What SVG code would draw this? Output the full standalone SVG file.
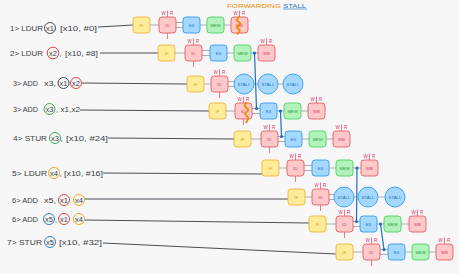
<svg xmlns="http://www.w3.org/2000/svg" width="459" height="274" viewBox="0 0 459 274">
  <style>
    text { font-family: "Liberation Sans", "DejaVu Sans", sans-serif; }
    .lbl { font-size: 7.5px; fill: #3b3f44; }
    .st rect, .st circle { stroke-width: 0.9; }
    .st text { font-size: 4.3px; text-anchor: middle; }
    .st .wr { font-size: 4.5px; }
    .st path { fill: none; stroke-width: 0.8; }
    .if rect { fill: #ffec99; stroke: #f2b33d; }
    .if text { fill: #e39a12; }
    .id rect { fill: #ffc9c9; stroke: #e35d6a; }
    .id text { fill: #d6336c; }
    .id path { stroke: #e35d6a; }
    .ex rect, .ex circle { fill: #a5d8ff; stroke: #339af0; }
    .ex text { fill: #1971c2; }
    .mem rect { fill: #b2f2bb; stroke: #51cf66; }
    .mem text { fill: #2f9e44; }
    .reg { fill: none; stroke-width: 0.9; }
    .pipe { stroke: #a0a4a8; stroke-width: 0.9; fill: none; }
    .lead { stroke: #4a4f55; stroke-width: 1; fill: none; }
    .fwd { stroke: #1c6fc0; stroke-width: 1.2; fill: none; }
    .dot { fill: #1c6fc0; }
    .zig { stroke: #f08c00; stroke-width: 1.8; fill: none; stroke-linejoin: round; }
  </style>
  <rect width="459" height="274" fill="#f7f7f7"/>

  <!-- title -->
  <g id="title">
    <text x="227" y="8" font-size="6" fill="#f08c00" textLength="54" lengthAdjust="spacingAndGlyphs">FORWARDING</text>
    <text x="283" y="8" font-size="6" fill="#1971c2" textLength="23" lengthAdjust="spacingAndGlyphs">STALL</text>
    <line x1="283" y1="9" x2="307" y2="9" stroke="#1971c2" stroke-width="0.6"/>
  </g>

  <!-- instruction labels -->
  <g id="labels">
    <g id="ins1">
      <text class="lbl" x="10" y="30.6" textLength="33" lengthAdjust="spacingAndGlyphs">1&gt; LDUR</text>
      <circle class="reg" cx="50" cy="28" r="5.5" stroke="#343a40"/>
      <text class="lbl" x="50" y="30.6" text-anchor="middle">x1</text>
      <text class="lbl" x="60" y="30.6" textLength="37" lengthAdjust="spacingAndGlyphs">[x10, #0]</text>
    </g>
    <g id="ins2">
      <text class="lbl" x="10" y="55.6" textLength="33" lengthAdjust="spacingAndGlyphs">2&gt; LDUR</text>
      <circle class="reg" cx="53" cy="53" r="5.8" stroke="#e03131"/>
      <text class="lbl" x="53" y="55.6" text-anchor="middle">x2</text>
      <text class="lbl" x="59.5" y="55.6">,</text>
      <text class="lbl" x="65" y="55.6" textLength="33" lengthAdjust="spacingAndGlyphs">[x10, #8]</text>
    </g>
    <g id="ins3">
      <text class="lbl" x="13" y="85.6" textLength="25" lengthAdjust="spacingAndGlyphs">3&gt; ADD</text>
      <text class="lbl" x="44" y="85.6" textLength="12" lengthAdjust="spacingAndGlyphs">x3,</text>
      <circle class="reg" cx="63.5" cy="83" r="5.5" stroke="#343a40"/>
      <text class="lbl" x="63.5" y="85.6" text-anchor="middle">x1</text>
      <circle class="reg" cx="76" cy="83" r="5.5" stroke="#e03131"/>
      <text class="lbl" x="76" y="85.6" text-anchor="middle">x2</text>
    </g>
    <g id="ins3b">
      <text class="lbl" x="13" y="111.6" textLength="25" lengthAdjust="spacingAndGlyphs">3&gt; ADD</text>
      <circle class="reg" cx="49.5" cy="109" r="5.5" stroke="#2f9e44"/>
      <text class="lbl" x="49.5" y="111.6" text-anchor="middle">x3</text>
      <text class="lbl" x="56" y="111.6" textLength="24" lengthAdjust="spacingAndGlyphs">, x1,x2</text>
    </g>
    <g id="ins4">
      <text class="lbl" x="13" y="140.6" textLength="34" lengthAdjust="spacingAndGlyphs">4&gt; STUR</text>
      <circle class="reg" cx="55" cy="138" r="5.5" stroke="#2f9e44"/>
      <text class="lbl" x="55" y="140.6" text-anchor="middle">x3</text>
      <text class="lbl" x="60.5" y="140.6">,</text>
      <text class="lbl" x="66" y="140.6" textLength="42" lengthAdjust="spacingAndGlyphs">[x10, #24]</text>
    </g>
    <g id="ins5">
      <text class="lbl" x="12" y="175.6" textLength="35" lengthAdjust="spacingAndGlyphs">5&gt; LDUR</text>
      <circle class="reg" cx="54" cy="173" r="5.5" stroke="#f59f00"/>
      <text class="lbl" x="54" y="175.6" text-anchor="middle">x4</text>
      <text class="lbl" x="59.5" y="175.6">,</text>
      <text class="lbl" x="64" y="175.6" textLength="39" lengthAdjust="spacingAndGlyphs">[x10, #16]</text>
    </g>
    <g id="ins6">
      <text class="lbl" x="12" y="202.6" textLength="26" lengthAdjust="spacingAndGlyphs">6&gt; ADD</text>
      <text class="lbl" x="44" y="202.6" textLength="12" lengthAdjust="spacingAndGlyphs">x5,</text>
      <circle class="reg" cx="64" cy="200" r="5.5" stroke="#e03131"/>
      <text class="lbl" x="64" y="202.6" text-anchor="middle">x1</text>
      <circle class="reg" cx="79" cy="200" r="5.5" stroke="#f59f00"/>
      <text class="lbl" x="79" y="202.6" text-anchor="middle">x4</text>
    </g>
    <g id="ins6b">
      <text class="lbl" x="12" y="221.6" textLength="26" lengthAdjust="spacingAndGlyphs">6&gt; ADD</text>
      <circle class="reg" cx="49" cy="219" r="5.5" stroke="#1971c2"/>
      <text class="lbl" x="49" y="221.6" text-anchor="middle">x5</text>
      <text class="lbl" x="55" y="221.6">,</text>
      <circle class="reg" cx="64" cy="219" r="5.5" stroke="#e03131"/>
      <text class="lbl" x="64" y="221.6" text-anchor="middle">x1</text>
      <circle class="reg" cx="79" cy="219" r="5.5" stroke="#f59f00"/>
      <text class="lbl" x="79" y="221.6" text-anchor="middle">x4</text>
    </g>
    <g id="ins7">
      <text class="lbl" x="7" y="244.6" textLength="35" lengthAdjust="spacingAndGlyphs">7&gt; STUR</text>
      <circle class="reg" cx="50" cy="242" r="5.5" stroke="#1971c2"/>
      <text class="lbl" x="50" y="244.6" text-anchor="middle">x5</text>
      <text class="lbl" x="59" y="244.6" textLength="43" lengthAdjust="spacingAndGlyphs">[x10, #32]</text>
    </g>
  </g>

  <!-- connectors -->
  <g id="connectors">
    <path class="lead" d="M98 27L133 25M100 53H158M82 83L187 84M80 110L209 111M108 138L234 139M103 173L262 174M85 199H288M85 220L309 223M103 243L336 254"/>
    <path class="pipe" d="
      M150 25H159M176 22.5H183M176 27.5H183M200 25H207M224 25H231
      M175 53H185M202 50.5H210M202 55.5H210M227 53H234M251 53H258
      M204 84H211M228 81.5H234M228 86.5H234M254 84H258M278 84H283
      M226 111H235M252 108.5H260M252 113.5H260M277 111H284M301 111H308
      M251 139H261M278 136.5H285M278 141.5H285M302 139H309M326 139H333
      M279 168H287M304 165.5H312M304 170.5H312M329 168H336M353 168H361
      M305 197H312M329 194.5H334M329 199.5H334M354 197H358M378 197H385
      M326 224H336M353 221.5H360M353 226.5H360M377 224H384M401 224H409
      M353 252H363M380 249.5H388M380 254.5H388M405 252H412M429 252H436"/>
    <path class="fwd" d="M254.5 53L256.5 108.5M280.5 111L281.5 136.5M357 168L356.5 221.5M380.5 224L384 249.5"/>
    <circle class="dot" cx="254.5" cy="53" r="1.6"/>
    <circle class="dot" cx="256.5" cy="108.5" r="1.6"/>
    <circle class="dot" cx="280.5" cy="111" r="1.6"/>
    <circle class="dot" cx="281.5" cy="136.5" r="1.6"/>
    <circle class="dot" cx="357" cy="168" r="1.6"/>
    <circle class="dot" cx="356.5" cy="221.5" r="1.6"/>
    <circle class="dot" cx="380.5" cy="224" r="1.6"/>
    <circle class="dot" cx="384" cy="249.5" r="1.6"/>
  </g>

  <!-- row 1 -->
  <g id="r1-if" class="st if"><rect x="133" y="17" width="17" height="16" rx="3"/><text x="141.5" y="26.5">IF</text></g>
  <g id="r1-id" class="st id"><rect x="159" y="17" width="17" height="16" rx="3"/><text x="167.5" y="26.5">ID</text><text class="wr" x="163.5" y="14.5">W</text><text class="wr" x="171.5" y="14.5">R</text><path d="M167.5 10.5V17M167.5 33V39"/></g>
  <g id="r1-ex" class="st ex"><rect x="183" y="17" width="17" height="16" rx="3"/><text x="191.5" y="26.5">EX</text></g>
  <g id="r1-mem" class="st mem"><rect x="207" y="17" width="17" height="16" rx="3"/><text x="215.5" y="26.5">MEM</text></g>
  <g id="r1-wb" class="st id"><rect x="231" y="17" width="17" height="16" rx="3"/><text x="239.5" y="26.5">WB</text><text class="wr" x="235.5" y="14.5">W</text><text class="wr" x="243.5" y="14.5">R</text><path d="M239.5 10.5V17"/><polyline class="zig" points="239.5,16 236.5,20 240.5,23.5 236.5,27 240,30.5 237,34.5"/></g>

  <!-- row 2 -->
  <g id="r2-if" class="st if"><rect x="158" y="45" width="17" height="16" rx="3"/><text x="166.5" y="54.5">IF</text></g>
  <g id="r2-id" class="st id"><rect x="185" y="45" width="17" height="16" rx="3"/><text x="193.5" y="54.5">ID</text><text class="wr" x="189.5" y="42.5">W</text><text class="wr" x="197.5" y="42.5">R</text><path d="M193.5 38.5V45M193.5 61V67"/></g>
  <g id="r2-ex" class="st ex"><rect x="210" y="45" width="17" height="16" rx="3"/><text x="218.5" y="54.5">EX</text></g>
  <g id="r2-mem" class="st mem"><rect x="234" y="45" width="17" height="16" rx="3"/><text x="242.5" y="54.5">MEM</text></g>
  <g id="r2-wb" class="st id"><rect x="258" y="45" width="17" height="16" rx="3"/><text x="266.5" y="54.5">WB</text><text class="wr" x="262.5" y="42.5">W</text><text class="wr" x="270.5" y="42.5">R</text><path d="M266.5 38.5V45"/></g>

  <!-- row 3 -->
  <g id="r3-if" class="st if"><rect x="187" y="76" width="17" height="16" rx="3"/><text x="195.5" y="85.5">IF</text></g>
  <g id="r3-id" class="st id"><rect x="211" y="76" width="17" height="16" rx="3"/><text x="219.5" y="85.5">ID</text><text class="wr" x="215.5" y="73.5">W</text><text class="wr" x="223.5" y="73.5">R</text><path d="M219.5 69.5V76M219.5 92V98"/></g>
  <g id="r3-s1" class="st ex"><circle cx="244" cy="84" r="10"/><text x="244" y="85.5">STALL</text></g>
  <g id="r3-s2" class="st ex"><circle cx="268" cy="84" r="10"/><text x="268" y="85.5">STALL</text></g>
  <g id="r3-s3" class="st ex"><circle cx="293" cy="84" r="10"/><text x="293" y="85.5">STALL</text></g>

  <!-- row 4 -->
  <g id="r4-if" class="st if"><rect x="209" y="103" width="17" height="16" rx="3"/><text x="217.5" y="112.5">IF</text></g>
  <g id="r4-id" class="st id"><rect x="235" y="103" width="17" height="16" rx="3"/><text x="243.5" y="112.5">ID</text><text class="wr" x="239.5" y="100.5">W</text><text class="wr" x="247.5" y="100.5">R</text><path d="M243.5 96.5V103M243.5 119V125"/><polyline class="zig" points="246.5,102 244.5,106 248.5,110 245,114 248.5,118 246,123"/></g>
  <g id="r4-ex" class="st ex"><rect x="260" y="103" width="17" height="16" rx="3"/><text x="268.5" y="112.5">EX</text></g>
  <g id="r4-mem" class="st mem"><rect x="284" y="103" width="17" height="16" rx="3"/><text x="292.5" y="112.5">MEM</text></g>
  <g id="r4-wb" class="st id"><rect x="308" y="103" width="17" height="16" rx="3"/><text x="316.5" y="112.5">WB</text><text class="wr" x="312.5" y="100.5">W</text><text class="wr" x="320.5" y="100.5">R</text><path d="M316.5 96.5V103"/></g>

  <!-- row 5 -->
  <g id="r5-if" class="st if"><rect x="234" y="131" width="17" height="16" rx="3"/><text x="242.5" y="140.5">IF</text></g>
  <g id="r5-id" class="st id"><rect x="261" y="131" width="17" height="16" rx="3"/><text x="269.5" y="140.5">ID</text><text class="wr" x="265.5" y="128.5">W</text><text class="wr" x="273.5" y="128.5">R</text><path d="M269.5 124.5V131M269.5 147V153"/></g>
  <g id="r5-ex" class="st ex"><rect x="285" y="131" width="17" height="16" rx="3"/><text x="293.5" y="140.5">EX</text></g>
  <g id="r5-mem" class="st mem"><rect x="309" y="131" width="17" height="16" rx="3"/><text x="317.5" y="140.5">MEM</text></g>
  <g id="r5-wb" class="st id"><rect x="333" y="131" width="17" height="16" rx="3"/><text x="341.5" y="140.5">WB</text><text class="wr" x="337.5" y="128.5">W</text><text class="wr" x="345.5" y="128.5">R</text><path d="M341.5 124.5V131"/></g>

  <!-- row 6 -->
  <g id="r6-if" class="st if"><rect x="262" y="160" width="17" height="16" rx="3"/><text x="270.5" y="169.5">IF</text></g>
  <g id="r6-id" class="st id"><rect x="287" y="160" width="17" height="16" rx="3"/><text x="295.5" y="169.5">ID</text><text class="wr" x="291.5" y="157.5">W</text><text class="wr" x="299.5" y="157.5">R</text><path d="M295.5 153.5V160M295.5 176V182"/></g>
  <g id="r6-ex" class="st ex"><rect x="312" y="160" width="17" height="16" rx="3"/><text x="320.5" y="169.5">EX</text></g>
  <g id="r6-mem" class="st mem"><rect x="336" y="160" width="17" height="16" rx="3"/><text x="344.5" y="169.5">MEM</text></g>
  <g id="r6-wb" class="st id"><rect x="361" y="160" width="17" height="16" rx="3"/><text x="369.5" y="169.5">WB</text><text class="wr" x="365.5" y="157.5">W</text><text class="wr" x="373.5" y="157.5">R</text><path d="M369.5 153.5V160"/></g>

  <!-- row 7 -->
  <g id="r7-if" class="st if"><rect x="288" y="189" width="17" height="16" rx="3"/><text x="296.5" y="198.5">IF</text></g>
  <g id="r7-id" class="st id"><rect x="312" y="189" width="17" height="16" rx="3"/><text x="320.5" y="198.5">ID</text><text class="wr" x="316.5" y="186.5">W</text><text class="wr" x="324.5" y="186.5">R</text><path d="M320.5 182.5V189M320.5 205V211"/></g>
  <g id="r7-s1" class="st ex"><circle cx="344" cy="197" r="10"/><text x="344" y="198.5">STALL</text></g>
  <g id="r7-s2" class="st ex"><circle cx="368" cy="197" r="10"/><text x="368" y="198.5">STALL</text></g>
  <g id="r7-s3" class="st ex"><circle cx="395" cy="197" r="10"/><text x="395" y="198.5">STALL</text></g>

  <!-- row 8 -->
  <g id="r8-if" class="st if"><rect x="309" y="216" width="17" height="16" rx="3"/><text x="317.5" y="225.5">IF</text></g>
  <g id="r8-id" class="st id"><rect x="336" y="216" width="17" height="16" rx="3"/><text x="344.5" y="225.5">ID</text><text class="wr" x="340.5" y="213.5">W</text><text class="wr" x="348.5" y="213.5">R</text><path d="M344.5 209.5V216M344.5 232V238"/></g>
  <g id="r8-ex" class="st ex"><rect x="360" y="216" width="17" height="16" rx="3"/><text x="368.5" y="225.5">EX</text></g>
  <g id="r8-mem" class="st mem"><rect x="384" y="216" width="17" height="16" rx="3"/><text x="392.5" y="225.5">MEM</text></g>
  <g id="r8-wb" class="st id"><rect x="409" y="216" width="17" height="16" rx="3"/><text x="417.5" y="225.5">WB</text><text class="wr" x="413.5" y="213.5">W</text><text class="wr" x="421.5" y="213.5">R</text><path d="M417.5 209.5V216"/></g>

  <!-- row 9 -->
  <g id="r9-if" class="st if"><rect x="336" y="244" width="17" height="16" rx="3"/><text x="344.5" y="253.5">IF</text></g>
  <g id="r9-id" class="st id"><rect x="363" y="244" width="17" height="16" rx="3"/><text x="371.5" y="253.5">ID</text><text class="wr" x="367.5" y="241.5">W</text><text class="wr" x="375.5" y="241.5">R</text><path d="M371.5 237.5V244M371.5 260V266"/></g>
  <g id="r9-ex" class="st ex"><rect x="388" y="244" width="17" height="16" rx="3"/><text x="396.5" y="253.5">EX</text></g>
  <g id="r9-mem" class="st mem"><rect x="412" y="244" width="17" height="16" rx="3"/><text x="420.5" y="253.5">MEM</text></g>
  <g id="r9-wb" class="st id"><rect x="436" y="244" width="17" height="16" rx="3"/><text x="444.5" y="253.5">WB</text><text class="wr" x="440.5" y="241.5">W</text><text class="wr" x="448.5" y="241.5">R</text><path d="M444.5 237.5V244"/></g>
</svg>
